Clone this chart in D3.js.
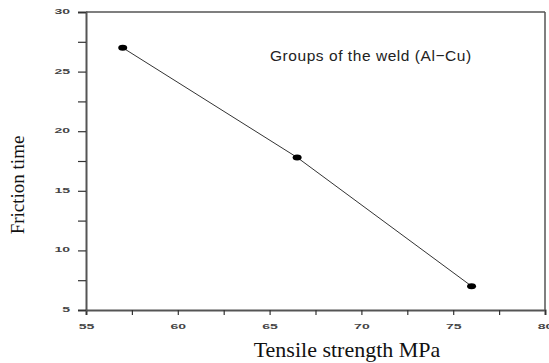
<!DOCTYPE html>
<html><head><meta charset="utf-8">
<script src="https://cdn.jsdelivr.net/npm/d3@7"></script>
<style>body{margin:0;background:#fff}svg{display:block}</style>
</head><body>
<svg id="c" width="549" height="363"></svg>
<script>
const tensile = [57, 66.5, 76];
const friction = [27, 17.8, 7];
const xTicks = [55, 60, 65, 70, 75, 80];
const yTicks = [5, 10, 15, 20, 25, 30];
const annotation = "Groups of the weld (Al\u2212Cu)";
const xTitle = "Tensile strength MPa";
const yTitle = "Friction time";

const svg = d3.select("#c");
const L = 86, R = 545, T = 12, B = 310;
const x = d3.scaleLinear().domain([55, 80]).range([L, R]);
const y = d3.scaleLinear().domain([5, 30]).range([B, T]);
const axisColor = "#555";

// frame top/right
svg.append("line").attr("x1", L).attr("x2", R).attr("y1", T).attr("y2", T).attr("stroke", axisColor).attr("stroke-width", 1.5);
svg.append("line").attr("x1", R).attr("x2", R).attr("y1", T).attr("y2", B).attr("stroke", axisColor).attr("stroke-width", 1.5);

const xMinor = d3.range(55, 80.01, 2.5);
const yMinor = d3.range(5, 30.01, 2.5);

const gx = svg.append("g").attr("transform", `translate(0,${B})`)
  .call(d3.axisBottom(x).tickValues(xMinor).tickSize(5).tickFormat(d => xTicks.includes(d) ? d : ""));
const gy = svg.append("g").attr("transform", `translate(${L},0)`)
  .call(d3.axisLeft(y).tickValues(yMinor).tickSize(8).tickFormat(d => yTicks.includes(d) ? d : ""));
[gx, gy].forEach(g => {
  g.select(".domain").attr("stroke", axisColor).attr("stroke-width", 2);
  g.selectAll(".tick line").attr("stroke", "#333").attr("stroke-width", 1.2);
  g.selectAll(".tick text").attr("fill", "#444").attr("font-family", "Liberation Sans, Arial, sans-serif")
    .attr("font-size", 8).attr("font-weight", "bold")
    .each(function() {
      const t = this.textContent;
      if (t.length) d3.select(this).attr("textLength", 7.8 * t.length).attr("lengthAdjust", "spacingAndGlyphs");
    });
});
gx.selectAll(".tick text").attr("y", 19).attr("dy", 0);
gy.selectAll(".tick text").attr("x", -16).attr("y", -1);

const pts = tensile.map((v, i) => [v, friction[i]]);
svg.append("path").datum(pts)
  .attr("d", d3.line().x(d => x(d[0])).y(d => y(d[1])))
  .attr("fill", "none").attr("stroke", "#333").attr("stroke-width", 1);
svg.selectAll("ellipse.pt").data(pts).enter().append("ellipse")
  .attr("cx", d => x(d[0])).attr("cy", d => y(d[1])).attr("rx", 4.5).attr("ry", 3).attr("fill", "#000");

svg.append("text").attr("x", 270).attr("y", 61).text(annotation)
  .attr("font-family", "Liberation Sans, Arial, sans-serif").attr("font-size", 15.5)
  .attr("letter-spacing", "0.55px").attr("fill", "#222");

svg.append("text").attr("x", 347).attr("y", 357).attr("text-anchor", "middle").text(xTitle)
  .attr("font-family", "Liberation Serif, Times New Roman, serif").attr("font-size", 22).attr("fill", "#111");
svg.append("text").attr("transform", "translate(24,185) rotate(-90)").attr("text-anchor", "middle").text(yTitle)
  .attr("font-family", "Liberation Serif, Times New Roman, serif").attr("font-size", 19).attr("fill", "#111");
</script>
</body></html>
